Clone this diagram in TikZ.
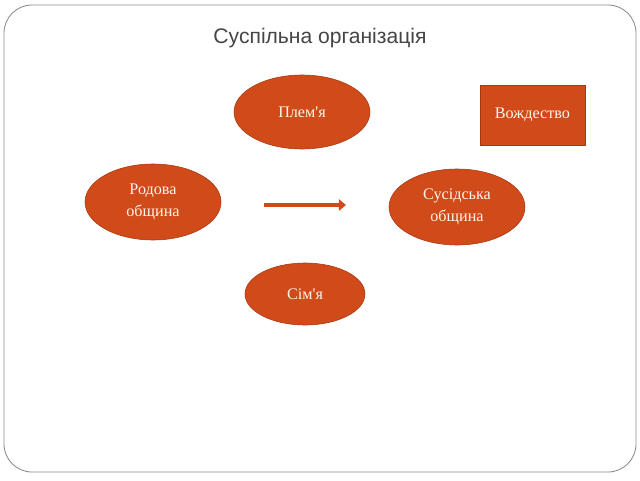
\documentclass[tikz,border=0pt]{standalone}
\usepackage{fontspec}
\setmainfont{Liberation Serif}
\newfontfamily\titlefont{Liberation Sans}
\usetikzlibrary{shapes.geometric,arrows.meta}
\definecolor{rust}{HTML}{D04A1A}
\definecolor{rustedge}{HTML}{A8380F}
\definecolor{framegray}{HTML}{8A8A8A}
\definecolor{titlegray}{HTML}{454545}
\tikzset{
  blob/.style={ellipse,fill=rust,draw=rustedge,line width=0.4pt,text=white!92!orange,
    align=center,inner sep=0pt,font=\fontsize{11.5}{16}\selectfont},
  boxnode/.style={rectangle,fill=rust,draw=rustedge,line width=0.4pt,text=white!92!orange,
    inner sep=0pt,font=\fontsize{11.5}{16}\selectfont}
}
\begin{document}
\begin{tikzpicture}
  \useasboundingbox (0,0) rectangle (16,12);
  \draw[framegray,line width=0.6pt,rounded corners=0.7cm] (0.1,0.2) rectangle (15.9,11.875);
  \node[text=titlegray,font=\titlefont\fontsize{15}{17}\selectfont] (title) at (8,11.05){Суспільна організація};
  \node[blob,minimum width=3.4cm,minimum height=1.85cm] (plem) at (7.55,9.2){Плем\textquotesingle я};
  \node[blob,minimum width=3.4cm,minimum height=1.9cm] (rodova) at (3.825,6.95){Родова\\община};
  \node[blob,minimum width=3.4cm,minimum height=1.9cm] (susid) at (11.425,6.825){Сусідська\\община};
  \node[blob,minimum width=3.0cm,minimum height=1.55cm] (simya) at (7.625,4.65){Сім\textquotesingle я};
  \node[boxnode,minimum width=2.625cm,minimum height=1.5cm] (vozhd) at (13.31,9.125){Вождество};
  \coordinate (arrtail) at (6.6,6.875);
  \coordinate (arrhead) at (8.65,6.875);
  \path[draw,rust,line width=2.6pt,-{Triangle[length=5pt,width=8pt]}] (arrtail) -- (arrhead);
\end{tikzpicture}
\end{document}
